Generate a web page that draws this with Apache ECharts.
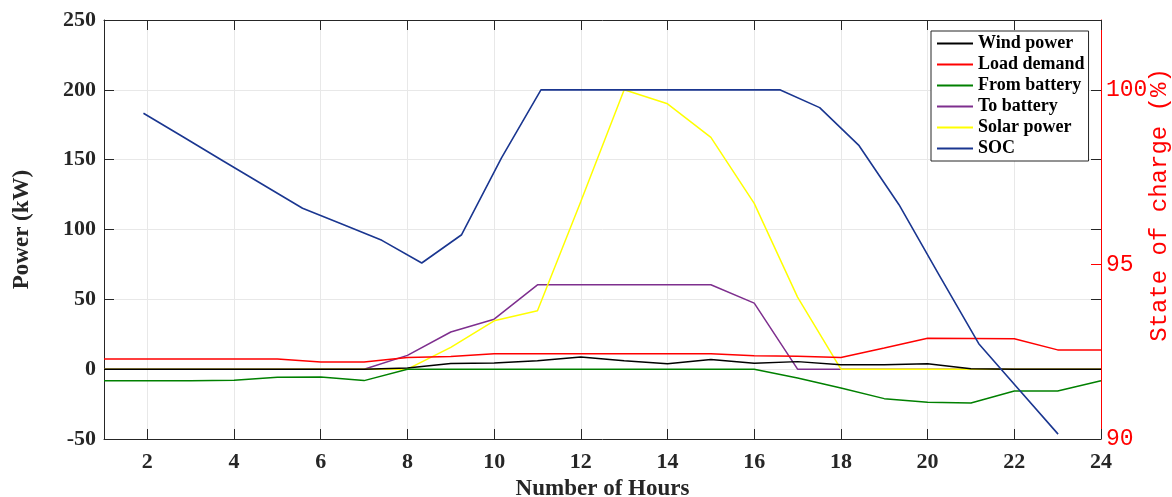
<!DOCTYPE html>
<html><head><meta charset="utf-8">
<script src="https://cdn.jsdelivr.net/npm/echarts@6/dist/echarts.min.js"></script>
<style>html,body{margin:0;padding:0;background:#fff}#c{width:1172px;height:497px}</style>
</head><body><div id="c"></div>
<script>
const hours = [1,2,3,4,5,6,7,8,9,10,11,12,13,14,15,16,17,18,19,20,21,22,23,24];
const windPower   = [0,0,0,0,0,0,0,0.8,4,4.4,6,8.7,6,3.9,7,4.2,5.4,3.2,3.2,3.9,0.3,0,0,0];
const loadDemand  = [7.3,7.3,7.3,7.3,7.3,5.1,5.1,8.4,9.1,11,11,11,11,11,11,9.6,9.2,8.4,15.1,22.2,22,21.8,13.8,13.8];
const fromBattery = [-8.3,-8.3,-8.3,-8.0,-5.8,-5.6,-8.2,0,0,0,0,0,0,0,0,0,-6.3,-13.5,-21.1,-23.7,-24.2,-15.6,-15.6,-8.3];
const toBattery   = [0,0,0,0,0,0,0,9.9,26.6,35.8,60.4,60.4,60.4,60.4,60.4,47.3,0,0,0,0,0,0,0,0];
const solarPower  = [0,0,0,0,0,0,0,0,15.6,34.6,41.8,120,200,190,166,118.7,51.6,0,0,0,0,0,0,0];
const socHours = [1.91,2.83,3.74,4.66,5.58,6.50,7.41,8.33,9.25,10.17,11.08,12.00,12.92,13.84,14.75,15.67,16.59,17.51,18.42,19.34,20.26,21.18,22.09,23.01];
const soc      = [99.33,98.65,97.97,97.29,96.61,96.15,95.69,95.04,95.85,98.05,100,100,100,100,100,100,100,99.49,98.4,96.71,94.71,92.73,91.44,90.14];
const hourTicks = [2,4,6,8,10,12,14,16,18,20,22,24];
const socTicks = [90,95,100];

const pair = (xs, ys) => xs.map((x, i) => [x, ys[i]]);
const serif = '"Liberation Serif", "Times New Roman", serif';
const mono = '"Liberation Mono", "Courier New", monospace';
const axisCol = '#262626';

function line(name, data, color, yIdx, w) {
  return { name, type: 'line', data, yAxisIndex: yIdx || 0, symbol: 'none', showSymbol: false,
    lineStyle: { color, width: w || 1.5 }, itemStyle: { color }, emphasis: { disabled: true } };
}

const chart = echarts.init(document.getElementById('c'));
chart.setOption({
  animation: false,
  grid: { left: 104, right: 71, top: 20, bottom: 58, containLabel: false, outerBoundsMode: 'none' },
  legend: {
    orient: 'vertical', left: 931, top: 31, padding: [2, 4, 2, 6], itemGap: 0,
    itemWidth: 36, itemHeight: 2, icon: 'rect', backgroundColor: '#fff',
    borderColor: axisCol, borderWidth: 1,
    textStyle: { fontFamily: serif, fontWeight: 'bold', fontSize: 18, color: '#000', lineHeight: 21 },
    data: ['Wind power', 'Load demand', 'From battery', 'To battery', 'Solar power', 'SOC']
  },
  xAxis: [
    { type: 'value', min: 1, max: 24, position: 'bottom',
      axisLine: { show: true, onZero: false, lineStyle: { color: axisCol } },
      axisTick: { show: true, inside: true, length: 10, customValues: hourTicks, lineStyle: { color: axisCol } },
      axisLabel: { customValues: hourTicks, fontFamily: serif, fontWeight: 'bold', fontSize: 22, color: axisCol, margin: 12 },
      splitLine: { show: true, lineStyle: { color: '#e8e8e8' } },
      name: 'Number of Hours', nameLocation: 'middle', nameGap: 36,
      nameTextStyle: { fontFamily: serif, fontWeight: 'bold', fontSize: 23, color: axisCol } },
    { type: 'value', min: 1, max: 24, position: 'top',
      axisLine: { show: true, onZero: false, lineStyle: { color: axisCol } },
      axisTick: { show: true, inside: true, length: 10, customValues: hourTicks, lineStyle: { color: axisCol } },
      axisLabel: { show: false }, splitLine: { show: false } }
  ],
  yAxis: [
    { type: 'value', min: -50, max: 250, interval: 50, position: 'left',
      axisLine: { show: true, onZero: false, lineStyle: { color: axisCol } },
      axisTick: { show: true, inside: true, length: 10, lineStyle: { color: axisCol } },
      axisLabel: { fontFamily: serif, fontWeight: 'bold', fontSize: 22, color: axisCol, margin: 8 },
      splitLine: { show: true, lineStyle: { color: '#e8e8e8' } },
      name: 'Power (kW)', nameLocation: 'middle', nameGap: 70,
      nameTextStyle: { fontFamily: serif, fontWeight: 'bold', fontSize: 23, color: axisCol } },
    { type: 'value', min: 90, max: 102, position: 'right',
      axisLine: { show: true, onZero: false, lineStyle: { color: '#ff0000' } },
      axisTick: { show: true, inside: true, length: 10, customValues: socTicks, lineStyle: { color: '#ff0000' } },
      axisLabel: { customValues: socTicks, fontFamily: mono, fontSize: 23, color: '#ff0000', margin: 5 },
      splitLine: { show: false } },
    { type: 'value', min: -50, max: 250, interval: 50, position: 'right',
      axisLine: { show: false, onZero: false },
      axisTick: { show: true, inside: true, length: 10, lineStyle: { color: axisCol } },
      axisLabel: { show: false }, splitLine: { show: false } }
  ],
  graphic: [
    { type: 'text', x: 1160, y: 205, rotation: Math.PI / 2,
      style: { text: 'State of charge (%)', font: '24px ' + mono, fill: '#ff0000', align: 'center', verticalAlign: 'middle' } }
  ],
  series: [
    line('To battery', pair(hours, toBattery), '#7e2f8e'),
    line('Solar power', pair(hours, solarPower), '#ffff00'),
    line('Wind power', pair(hours, windPower), '#000000'),
    line('Load demand', pair(hours, loadDemand), '#ff0000'),
    line('From battery', pair(hours, fromBattery), '#008000'),
    line('SOC', pair(socHours, soc), '#1a3690', 1, 1.6)
  ]
});
</script></body></html>
